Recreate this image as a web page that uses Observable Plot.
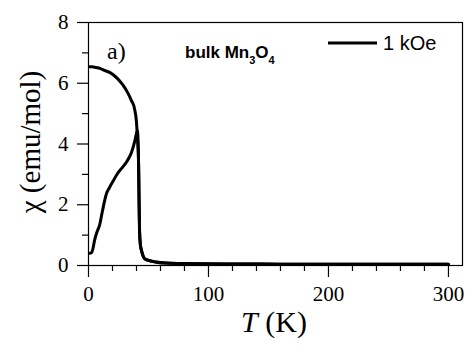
<!DOCTYPE html>
<html><head><meta charset="utf-8">
<script src="https://cdn.jsdelivr.net/npm/d3@7"></script>
<script src="https://cdn.jsdelivr.net/npm/@observablehq/plot@0.6"></script>
<style>
body{margin:0;background:#fff;}
#wrap{position:relative;width:470px;height:356px;}
#wrap svg.ov{position:absolute;left:0;top:0;}
</style></head><body><div id="wrap"></div>
<script>
// Field-cooled (upper) curve, 1 kOe
const fcT   = [0.8, 3, 6, 10, 13.3, 18, 24, 28.3, 32.5, 35.8, 38.3, 40, 40.8, 41.7, 42.1, 42.5, 43.3, 44.2, 46.7, 50.8, 55.8, 64, 77, 93, 120, 160, 200, 250, 300];
const fcChi = [6.54, 6.54, 6.52, 6.48, 6.42, 6.35, 6.16, 5.96, 5.70, 5.43, 5.17, 4.71, 4.18, 3.46, 2.14, 1.15, 0.66, 0.49, 0.23, 0.16, 0.115, 0.08, 0.065, 0.055, 0.05, 0.045, 0.04, 0.04, 0.04];
// Zero-field-cooled (lower) curve
const zfcT   = [0.8, 2.5, 3.5, 5, 7.5, 9.2, 11.7, 15, 17.5, 20.8, 24.2, 28.3, 32.5, 35.8, 38.3, 40, 40.8, 41.4, 41.9, 42.3, 42.6, 43.3, 44.2, 46.7, 50.8, 55.8, 64, 77, 93, 120, 160, 200, 250, 300];
const zfcChi = [0.40, 0.42, 0.52, 0.82, 1.15, 1.32, 1.81, 2.37, 2.57, 2.80, 3.03, 3.23, 3.46, 3.72, 4.05, 4.35, 4.44, 4.0, 3.0, 1.8, 1.1, 0.66, 0.49, 0.23, 0.16, 0.115, 0.08, 0.065, 0.055, 0.05, 0.045, 0.04, 0.04, 0.04];

const xMajor = [0, 100, 200, 300];
const xMinor = [20, 40, 60, 80, 120, 140, 160, 180, 220, 240, 260, 280];
const yMajor = [0, 2, 4, 6, 8];
const yMinor = [1, 3, 5, 7];
const xDomain = [0, 311.7];
const yDomain = [0, 8];

const xTitle = "T";
const xUnit = " (K)";
const yTitle = "χ (emu/mol)";
const panelLabel = "a)";
const legendLabel = "1 kOe";

const fc = fcT.map((t, i) => ({t, chi: fcChi[i]}));
const zfc = zfcT.map((t, i) => ({t, chi: zfcChi[i]}));

const serif = "Liberation Serif, Times New Roman, serif";
const sans = "Liberation Sans, Arial, sans-serif";

const plot = Plot.plot({
  width: 470, height: 356,
  marginLeft: 88, marginRight: 8, marginTop: 22, marginBottom: 91,
  style: {background: "white", color: "black", fontFamily: serif, overflow: "visible"},
  x: {domain: xDomain},
  y: {domain: yDomain},
  marks: [
    Plot.frame({stroke: "black", strokeWidth: 1.2}),
    Plot.axisX({ticks: xMinor, tickSize: 6, text: null, label: null, strokeWidth: 1.2}),
    Plot.axisX({ticks: xMajor, tickSize: 12, tickPadding: 9, fontSize: 21, fontFamily: serif, label: null, tickFormat: d => d, strokeWidth: 1.2}),
    Plot.axisY({ticks: yMinor, tickSize: 6, text: null, label: null, strokeWidth: 1.2}),
    Plot.axisY({ticks: yMajor, tickSize: 11, tickPadding: 9, fontSize: 21, fontFamily: serif, label: null, tickFormat: d => d, strokeWidth: 1.2}),
    Plot.line(zfc, {x: "t", y: "chi", stroke: "black", strokeWidth: 3, curve: "monotone-x"}),
    Plot.line(fc, {x: "t", y: "chi", stroke: "black", strokeWidth: 3, curve: "monotone-x"})
  ]
});

const wrap = document.getElementById("wrap");
wrap.appendChild(plot);

const NS = "http://www.w3.org/2000/svg";
const ov = document.createElementNS(NS, "svg");
ov.setAttribute("class", "ov");
ov.setAttribute("width", 470);
ov.setAttribute("height", 356);
wrap.appendChild(ov);

function txt(x, y, str, font, size, opts = {}) {
  const t = document.createElementNS(NS, "text");
  t.setAttribute("x", x); t.setAttribute("y", y);
  t.style.fontFamily = font; t.style.fontSize = size + "px";
  t.setAttribute("fill", "black");
  for (const k in opts) t.setAttribute(k, opts[k]);
  if (str != null) t.textContent = str;
  ov.appendChild(t);
  return t;
}
function tspan(parent, str, opts = {}) {
  const s = document.createElementNS(NS, "tspan");
  for (const k in opts) s.setAttribute(k, opts[k]);
  s.textContent = str;
  parent.appendChild(s);
  return s;
}

// panel label
txt(107, 59, panelLabel, serif, 24);
// sample label: bulk Mn3O4
const s = txt(185, 58, null, sans, 17, {"font-weight": "bold"});
tspan(s, "bulk Mn");
tspan(s, "3", {"font-size": 11, dy: 6});
tspan(s, "O", {dy: -6});
tspan(s, "4", {"font-size": 11, dy: 6});
// legend
const ln = document.createElementNS(NS, "line");
ln.setAttribute("x1", 328); ln.setAttribute("x2", 377);
ln.setAttribute("y1", 43); ln.setAttribute("y2", 43);
ln.setAttribute("stroke", "black"); ln.setAttribute("stroke-width", 3);
ov.appendChild(ln);
txt(383, 50, legendLabel, sans, 20);
// axis titles
const xt = txt(274, 332, null, serif, 30, {"text-anchor": "middle"});
tspan(xt, xTitle, {"font-style": "italic"});
tspan(xt, xUnit);
txt(40, 142, yTitle, serif, 29, {"text-anchor": "middle", transform: "rotate(-90 40 142)"});
</script></body></html>
